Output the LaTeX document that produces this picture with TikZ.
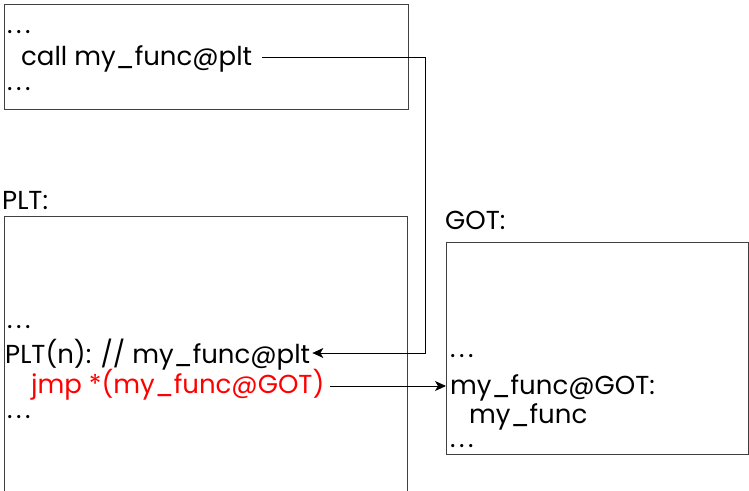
\documentclass[tikz,border=0pt]{standalone}
\usepackage{fontspec}
\setmainfont{Poppins}
\usetikzlibrary{arrows.meta}
\newcommand\dotsx{.\hspace{3.5pt}.\hspace{3.5pt}.}
\begin{document}
\begin{tikzpicture}[x=1pt,y=-1pt,
  txt/.style={anchor=base west,inner sep=0pt,font=\fontsize{26}{30}\selectfont},
  box/.style={draw=black!75,line width=0.8pt,inner sep=0pt,anchor=north west},
  conn/.style={line width=0.9pt,-{Stealth[length=11pt,width=10pt,inset=3pt]}}]
\useasboundingbox (0,0) rectangle (749,490);
% boxes
\node[box,minimum width=404pt,minimum height=105pt] (codebox) at (4,4) {};
\draw[box] (4,492) -- (4,216) -- (407,216) -- (407,492);
\node[box,minimum width=302pt,minimum height=212pt] (gotbox) at (446,242) {};
% texts
\node[txt] (d1) at (7,33) {\dotsx};
\node[txt] (call) at (21,65) {call my\_func@plt};
\node[txt] (d2) at (7,90) {\dotsx};
\node[txt] (pltlbl) at (2,209) {PLT:};
\node[txt] (d3) at (7,328) {\dotsx};
\node[txt] (pltn) at (5,363) {PLT(n): // my\_func@plt};
\node[txt,text=red] (jmp) at (31,393) {jmp *(my\_func@GOT)};
\node[txt] (d4) at (7,418) {\dotsx};
\node[txt] (gotlbl) at (445,229) {GOT:};
\node[txt] (d5) at (450,357) {\dotsx};
\node[txt] (gotent) at (450,394) {my\_func@GOT:};
\node[txt] (myf) at (469,423) {my\_func};
\node[txt] (d6) at (450,447) {\dotsx};
% connectors
\coordinate (bend) at (425,0);
\coordinate (s1) at ([shift={(10,-8)}]call.base east);
\coordinate (s2) at ([shift={(5,-7)}]jmp.base east);
\draw[conn] (s1) -- (s1 -| bend) |- ([shift={(2,-10)}]pltn.base east);
\draw[conn] (s2) -- (s2 -| gotbox.west);
\end{tikzpicture}
\end{document}
